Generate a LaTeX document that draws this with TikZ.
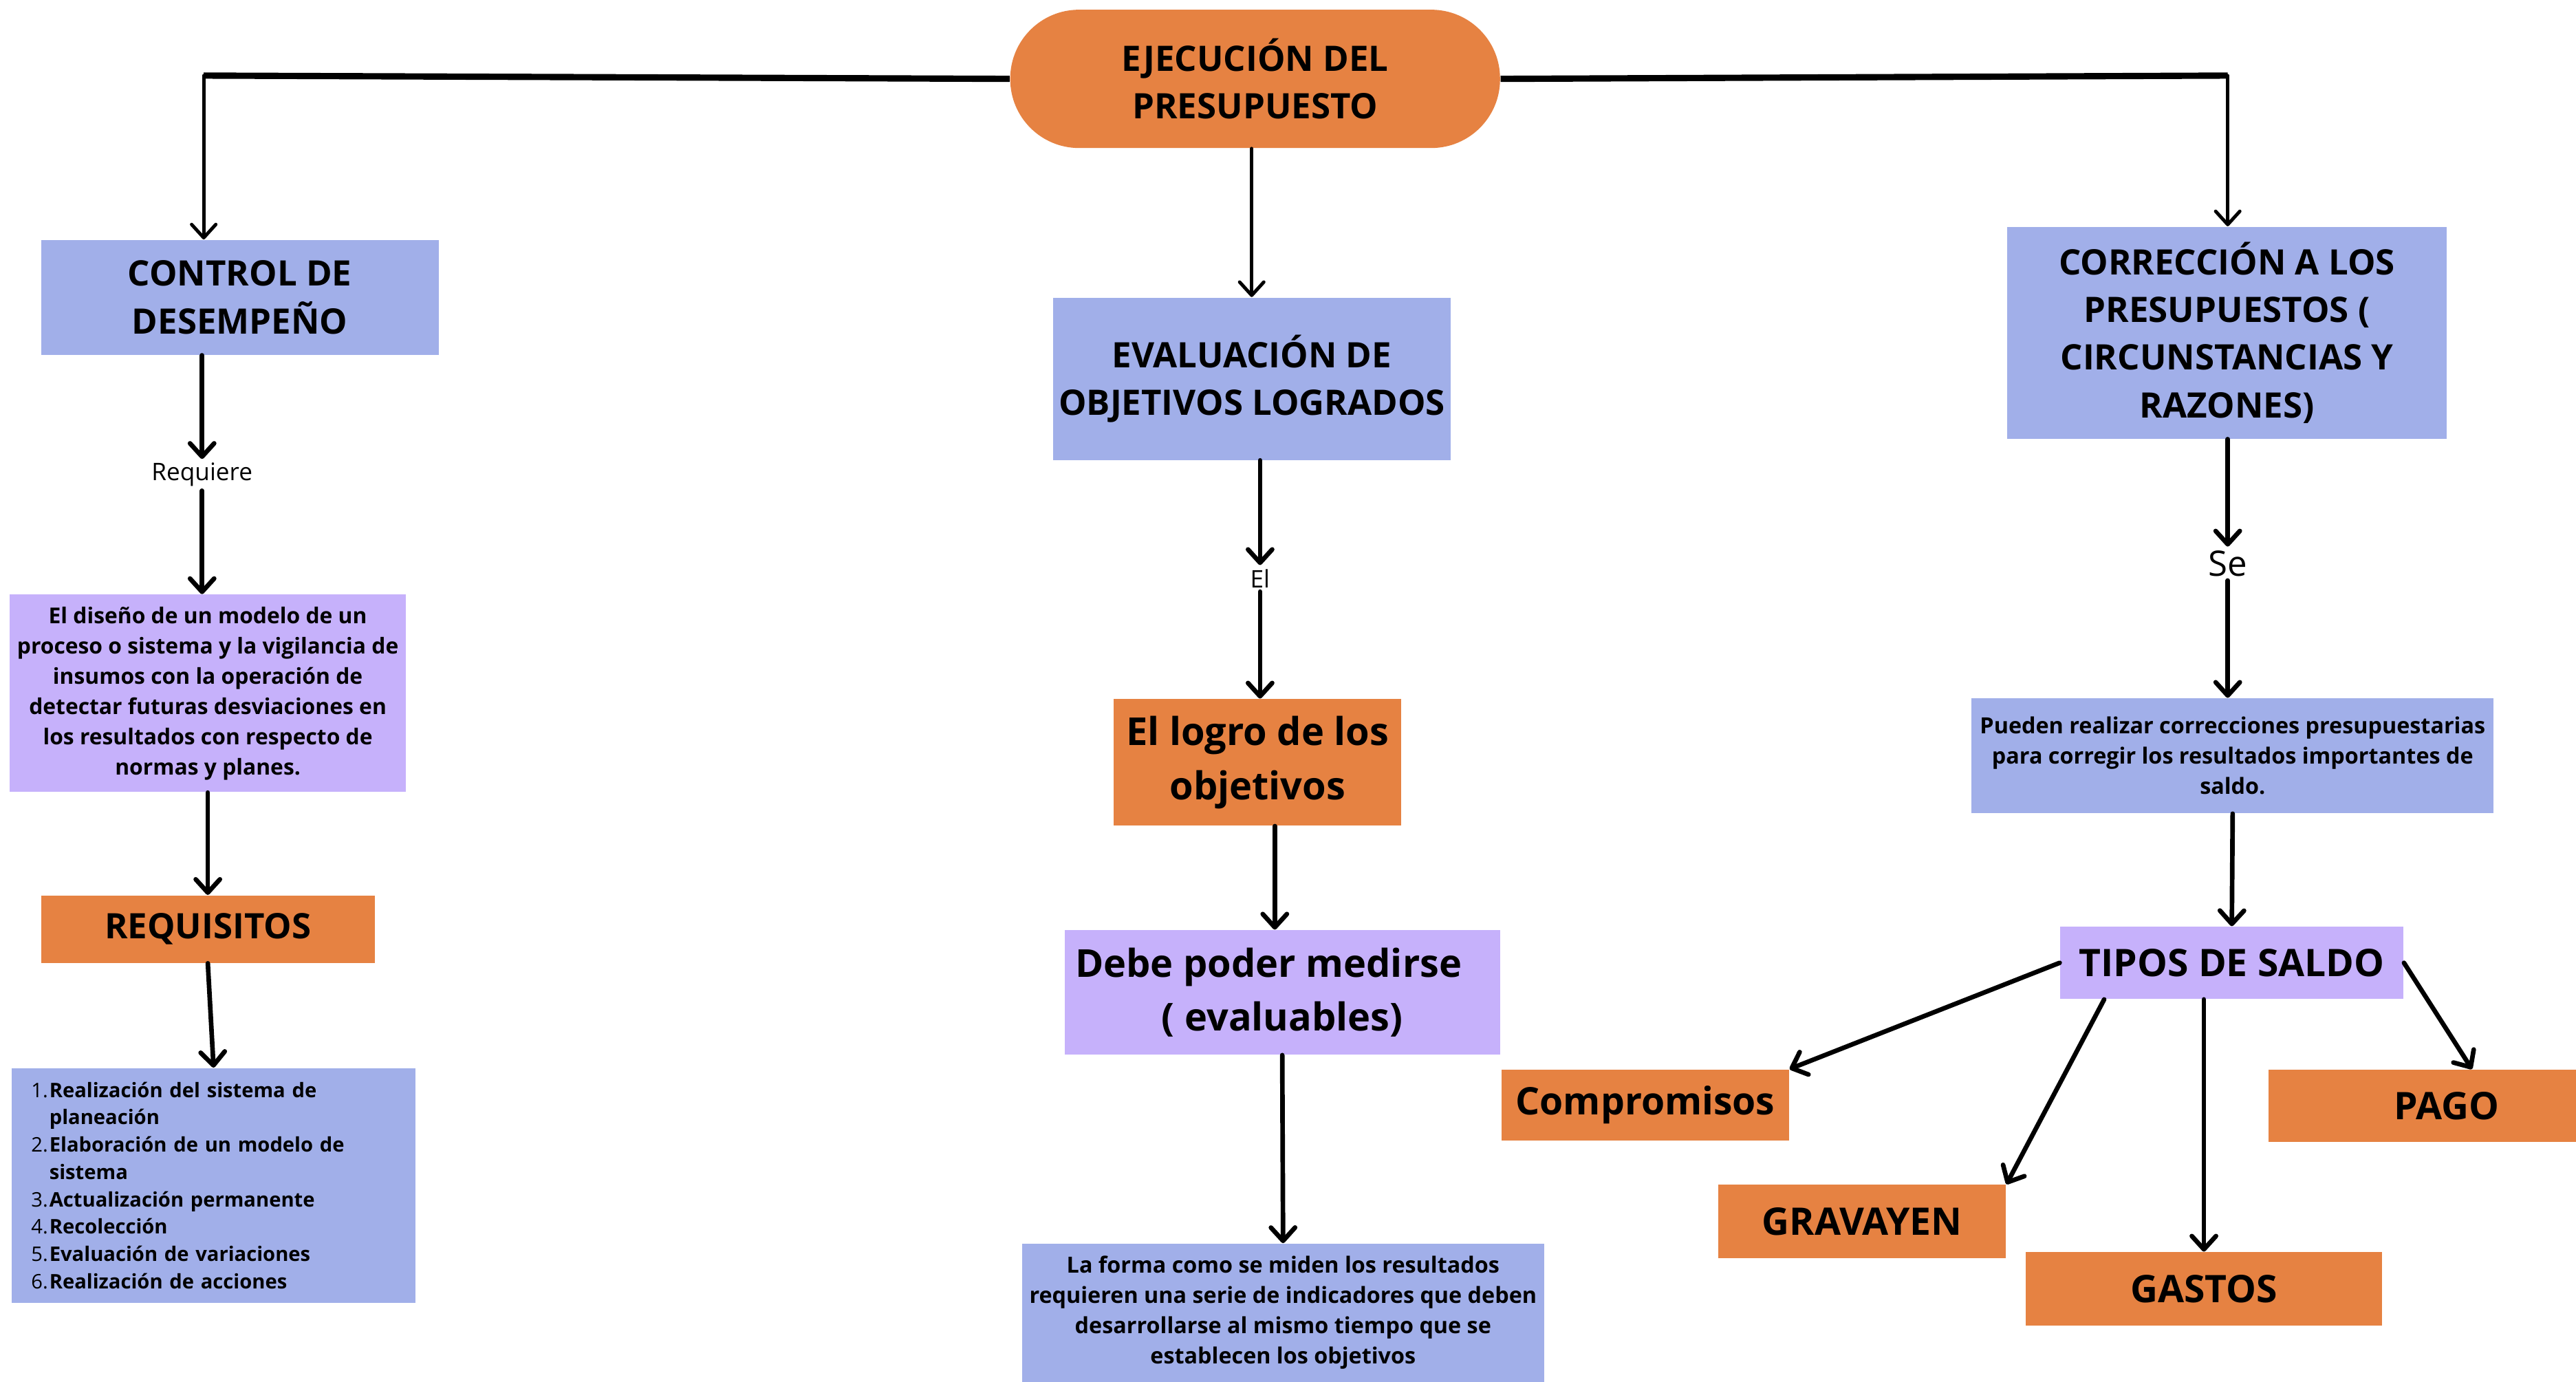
\documentclass[tikz,border=0pt]{standalone}
\usepackage{fontspec}
\setmainfont{Open Sans}
\usetikzlibrary{positioning,arrows.meta}
\definecolor{boxorange}{RGB}{230,130,66}
\definecolor{boxblue}{RGB}{161,175,233}
\definecolor{boxpurple}{RGB}{198,177,251}
\newcommand{\titletxt}{\fontsize{14.5}{19.7}\selectfont\bfseries}
\newcommand{\bigtxt}{\fontsize{15.9}{22.4}\selectfont\bfseries}
\newcommand{\leaftxt}{\fontsize{15.7}{20}\selectfont\bfseries}
\newcommand{\smalltxt}{\fontsize{9.05}{12.5}\selectfont\bfseries}
\newcommand{\widetxt}{\fontsize{9.2}{12.5}\selectfont\bfseries}
\newcommand{\listtxt}{\fontsize{8.3}{11.3}\selectfont}
\newcommand{\lbltxt}{\fontsize{10}{12}\selectfont}
\tikzset{x=0.02388cm, y=-0.02388cm, % one unit = one pixel of the sketch
  basebox/.style={ % plain filled box, no border
    inner sep=0pt,
    align=center},
  bluebox/.style={basebox, fill=boxblue},
  orangebox/.style={basebox, fill=boxorange},
  purplebox/.style={basebox, fill=boxpurple},
  lbl/.style={inner sep=1.5pt, font=\lbltxt},
  trunk/.style={line width=2.6pt},
  every edge/.style={
    draw,
    -{Straight Barb[length=5.5pt,width=10pt,round]},
    line width=1.9pt,
    line cap=round}}

\begin{document}
\begin{tikzpicture}
    \fill[white] (0,0) rectangle (1568,841);
    \useasboundingbox (0,0) rectangle (1568,841);
    % top
    \node[orangebox, rounded corners=1cm, minimum width=7.12cm, minimum height=2.01cm, font=\titletxt] (ejec) at (764,48) {EJECUCIÓN DEL\\PRESUPUESTO};
    \coordinate (lcorner) at (124,46);
    \coordinate (rcorner) at (1356,46);
    % left column
    \node[bluebox, minimum width=5.78cm, minimum height=1.67cm, font=\titletxt] (ctrl) at (146,181) {CONTROL DE\\DESEMPEÑO};
    \node[lbl] (req) at (123,289) {Requiere};
    \node[purplebox, minimum width=5.76cm, minimum height=2.87cm, font=\smalltxt] (diseno) at (126.5,422) {El diseño de un modelo de un\\proceso o sistema y la vigilancia de\\insumos con la operación de\\detectar futuras desviaciones en\\los resultados con respecto de\\normas y planes.};
    \node[orangebox, minimum width=4.85cm, minimum height=0.98cm, font=\titletxt] (requis) at (126.5,565.5) {REQUISITOS};
    \node[bluebox, text width=5.30cm, inner xsep=0.287cm, minimum height=3.41cm, align=left, font=\listtxt] (lista) at (130,721.5) {%
      \makebox[7.5pt][l]{1.}\textbf{Realización del sistema de}\\\hspace*{7.5pt}\textbf{planeación}\\
      \makebox[7.5pt][l]{2.}\textbf{Elaboración de un modelo de}\\\hspace*{7.5pt}\textbf{sistema}\\
      \makebox[7.5pt][l]{3.}\textbf{Actualización permanente}\\
      \makebox[7.5pt][l]{4.}\textbf{Recolección}\\
      \makebox[7.5pt][l]{5.}\textbf{Evaluación de variaciones}\\
      \makebox[7.5pt][l]{6.}\textbf{Realización de acciones}};
    % middle column
    \node[bluebox, minimum width=5.78cm, minimum height=2.36cm, font=\titletxt] (eval) at (762,230.5) {EVALUACIÓN DE\\OBJETIVOS LOGRADOS};
    \node[lbl] (el) at (767,352) {El};
    \node[orangebox, minimum width=4.18cm, minimum height=1.84cm, font=\bigtxt] (logro) at (765.5,464) {El logro de los\\objetivos};
    \node[purplebox, minimum width=6.33cm, minimum height=1.81cm, font=\bigtxt] (debe) at (780.5,604) {Debe poder medirse\hspace*{0.4cm}\\( evaluables)};
    \node[bluebox, minimum width=7.59cm, minimum height=2.01cm, font=\widetxt] (forma) at (781,799) {La forma como se miden los resultados\\requieren una serie de indicadores que deben\\desarrollarse al mismo tiempo que se\\establecen los objetivos};
    % right column
    \node[bluebox, minimum width=6.38cm, minimum height=3.08cm, font=\titletxt] (correc) at (1355.5,202.5) {CORRECCIÓN A LOS\\PRESUPUESTOS (\\CIRCUNSTANCIAS Y\\RAZONES)};
    \node[lbl, font=\fontsize{14.5}{16}\selectfont] (se) at (1356,343) {Se};
    \node[bluebox, minimum width=7.59cm, minimum height=1.67cm, font=\widetxt] (pueden) at (1359,460) {Pueden realizar correcciones presupuestarias\\para corregir los resultados importantes de\\saldo.};
    \node[purplebox, minimum width=4.99cm, minimum height=1.05cm, font=\leaftxt] (tipos) at (1358.5,586) {TIPOS DE SALDO};
    \node[orangebox, minimum width=4.18cm, minimum height=1.03cm, font=\leaftxt] (compro) at (1001.5,672.5) {Compromisos};
    \node[orangebox, minimum width=4.18cm, minimum height=1.07cm, font=\leaftxt] (grava) at (1133.5,743.5) {GRAVAYEN};
    \node[orangebox, minimum width=5.18cm, minimum height=1.07cm, font=\leaftxt] (gastos) at (1341.5,784.5) {GASTOS};
    \node[orangebox, minimum width=4.47cm, minimum height=1.05cm, font=\leaftxt] (pago) at (1474.5,673) {\hspace*{0.7cm}PAGO};

    % connectors
    \draw[trunk] (ejec.west) -- (lcorner);
    \draw[trunk] (ejec.east) -- (rcorner);
    \draw (lcorner) edge[line width=1.4pt] (ctrl.north -| lcorner);
    \draw (rcorner) edge[line width=1.4pt] (correc.north -| rcorner);
    \draw ([xshift=-0.05cm]ejec.south) edge[line width=1.4pt] ([xshift=-0.05cm]ejec.south |- eval.north);
    \draw (ctrl.south -| req.north) edge (req.north);
    \draw (req.south) edge (diseno.north -| req.south);
    \draw (diseno.south) edge (requis.north);
    \draw (requis.south) edge (lista.north);
    \draw (eval.south -| el.north) edge (el.north);
    \draw (el.south) edge (logro.north -| el.south);
    \draw ([xshift=0.25cm]logro.south) edge ([xshift=0.25cm]logro.south |- debe.north);
    \draw (debe.south) edge (forma.north);
    \draw (correc.south -| se.north) edge (se.north);
    \draw (se.south) edge (pueden.north -| se.south);
    \draw (pueden.south) edge (tipos.north);
    \draw (tipos.west) edge (compro.north east);
    \draw (tipos.196) edge (grava.north east);
    \draw (tipos.south -| gastos.north) edge (gastos.north);
    \draw (tipos.east) edge ([xshift=0.72cm]pago.north);
\end{tikzpicture}
\end{document}
